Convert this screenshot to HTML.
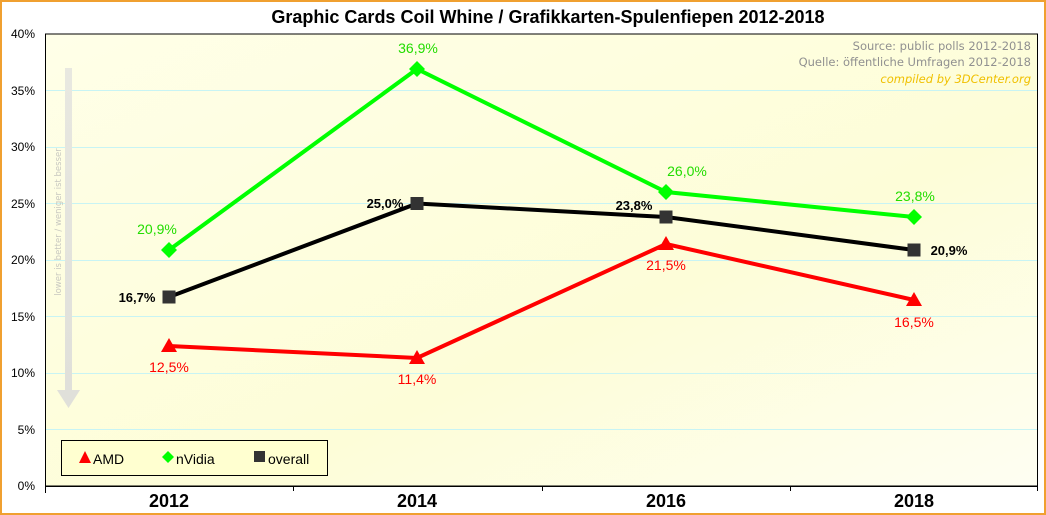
<!DOCTYPE html>
<html><head><meta charset="utf-8"><style>
body{margin:0;background:#fff}
svg{display:block;font-family:"Liberation Sans",Arial,sans-serif}
</style></head><body>
<svg width="1046" height="515" viewBox="0 0 1046 515">
<defs>
<linearGradient id="bg" x1="0" y1="0" x2="1" y2="1">
<stop offset="0" stop-color="#ffffe8"/>
<stop offset="0.6" stop-color="#fdfdd8"/>
<stop offset="1" stop-color="#fefef2"/>
</linearGradient>
<linearGradient id="ar" x1="0" y1="0" x2="0" y2="1">
<stop offset="0" stop-color="#e8e8e0"/><stop offset="1" stop-color="#e0e0da"/>
</linearGradient>
</defs>
<rect x="1" y="1" width="1044" height="513" fill="#fff" stroke="#f0a030" stroke-width="2"/>
<text x="548" y="23" text-anchor="middle" font-size="18" font-weight="bold">Graphic Cards Coil Whine / Grafikkarten-Spulenfiepen 2012-2018</text>
<rect x="45.5" y="34" width="992" height="452" fill="url(#bg)" stroke="#000" stroke-width="1"/>
<g stroke="#c8f4f4" stroke-width="1">
<line x1="46" x2="1037" y1="429.5" y2="429.5"/><line x1="46" x2="1037" y1="373.5" y2="373.5"/>
<line x1="46" x2="1037" y1="316.5" y2="316.5"/><line x1="46" x2="1037" y1="260.5" y2="260.5"/>
<line x1="46" x2="1037" y1="203.5" y2="203.5"/><line x1="46" x2="1037" y1="147.5" y2="147.5"/>
<line x1="46" x2="1037" y1="90.5" y2="90.5"/>
</g>
<g font-size="12" text-anchor="end" fill="#000">
<text x="35" y="490">0%</text><text x="35" y="434">5%</text><text x="35" y="377">10%</text>
<text x="35" y="321">15%</text><text x="35" y="264">20%</text><text x="35" y="208">25%</text>
<text x="35" y="151">30%</text><text x="35" y="95">35%</text><text x="35" y="38">40%</text>
</g>
<line x1="45" x2="1038" y1="486.5" y2="486.5" stroke="#000"/>
<g stroke="#000"><line x1="45.5" x2="45.5" y1="486" y2="493"/><line x1="293.5" x2="293.5" y1="486" y2="491"/><line x1="542.5" x2="542.5" y1="486" y2="491"/><line x1="790.5" x2="790.5" y1="486" y2="491"/><line x1="1037.5" x2="1037.5" y1="486" y2="491"/></g>
<g font-size="18" font-weight="bold" text-anchor="middle">
<text x="169" y="507">2012</text><text x="417" y="507">2014</text><text x="666" y="507">2016</text><text x="914" y="507">2018</text>
</g>
<rect x="65" y="68" width="7" height="322" fill="url(#ar)"/>
<polygon points="57,390 80,390 68.5,408" fill="#e0e0da"/>
<text transform="translate(61,222) rotate(-90)" text-anchor="middle" font-size="8.5" fill="#c8c8c0" font-family="DejaVu Sans, sans-serif">lower is better / weniger ist besser</text>
<g text-anchor="end" font-size="11.5" fill="#909090" font-family="DejaVu Sans, sans-serif">
<text x="1031" y="50">Source: public polls 2012-2018</text>
<text x="1031" y="66">Quelle: öffentliche Umfragen 2012-2018</text>
<text x="1031" y="83" fill="#f0c000" font-style="italic">compiled by 3DCenter.org</text>
</g>
<polyline points="169,250 417,69 666,192 914,217" fill="none" stroke="#00ff00" stroke-width="4"/>
<polyline points="169,297 417,203.5 666,217 914,250" fill="none" stroke="#000" stroke-width="4"/>
<polyline points="169,346 417,358 666,244 914,300" fill="none" stroke="#ff0000" stroke-width="4"/>
<g fill="#00ff00"><polygon points="169,242 177,250 169,258 161,250"/><polygon points="417,61 425,69 417,77 409,69"/><polygon points="666,184 674,192 666,200 658,192"/><polygon points="914,209 922,217 914,225 906,217"/></g>
<g fill="#333"><rect x="162.5" y="290.5" width="13" height="13"/><rect x="410.5" y="197" width="13" height="13"/><rect x="659.5" y="210.5" width="13" height="13"/><rect x="907.5" y="243.5" width="13" height="13"/></g>
<g fill="#ff0000"><polygon points="169,338 177,352 161,352"/><polygon points="417,350 425,364 409,364"/><polygon points="666,236 674,250 658,250"/><polygon points="914,292 922,306 906,306"/></g>
<g font-size="14" text-anchor="middle" fill="#22dd00">
<text x="157" y="234">20,9%</text><text x="418" y="53">36,9%</text><text x="687" y="176">26,0%</text><text x="915" y="201">23,8%</text>
</g>
<g font-size="14" text-anchor="middle" fill="#ff0000">
<text x="169" y="372">12,5%</text><text x="417" y="384">11,4%</text><text x="666" y="270">21,5%</text><text x="914" y="327">16,5%</text>
</g>
<g font-size="13" font-weight="bold" fill="#000">
<text x="137" y="302" text-anchor="middle">16,7%</text><text x="385" y="208" text-anchor="middle">25,0%</text>
<text x="634" y="210" text-anchor="middle">23,8%</text><text x="949" y="255" text-anchor="middle">20,9%</text>
</g>
<rect x="61.5" y="440.5" width="266" height="35" fill="#ffffd0" stroke="#000"/>
<polygon points="85,451 91,463 79,463" fill="#ff0000"/>
<text x="93" y="464" font-size="14">AMD</text>
<polygon points="168,451 174,457 168,463 162,457" fill="#00ff00"/>
<text x="176" y="464" font-size="14">nVidia</text>
<rect x="254" y="451" width="11" height="11" fill="#333"/>
<text x="268" y="464" font-size="14">overall</text>
</svg>
</body></html>
